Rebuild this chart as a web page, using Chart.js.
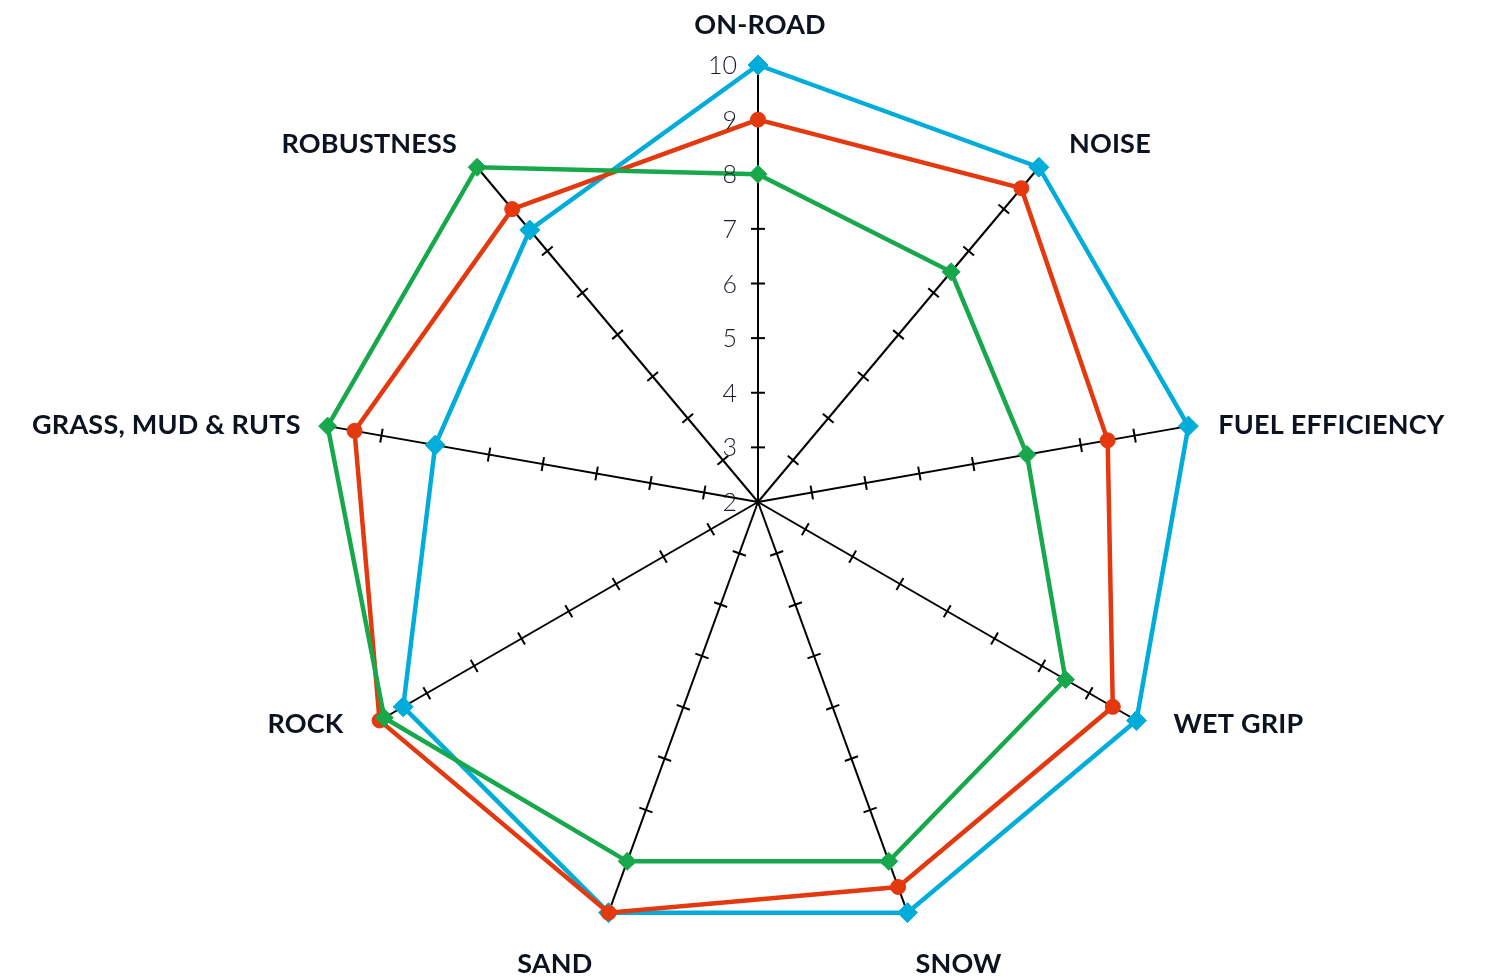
<!DOCTYPE html>
<html lang="en">
<head>
  <meta charset="UTF-8" />
  <title>Tyre Ratings Radar</title>
  <script src="https://cdn.jsdelivr.net/npm/chart.js"></script>
  <style>
    * {
      margin: 0;
      padding: 0;
      box-sizing: border-box;
    }

    body {
      background: #fff;
      font-family: 'Lato', sans-serif;
    }

    .wrap {
      width: 1488px;
      height: 979px;
      position: relative;
    }
  </style>
</head>
<body>

  <div class="wrap">
    <canvas id="radar"></canvas>
  </div>

  <script>
    // Chart data
    const categories = ['ON-ROAD', 'NOISE', 'FUEL EFFICIENCY', 'WET GRIP', 'SNOW', 'SAND', 'ROCK', 'GRASS, MUD & RUTS', 'ROBUSTNESS'];
    const blueValues = [10, 10, 10, 10, 10, 10, 9.5, 8, 8.5];
    const redValues = [9, 9.5, 8.5, 9.5, 9.5, 10, 10, 9.5, 9];
    const greenValues = [8, 7.5, 7, 8.5, 9, 9, 9.9, 10, 10];
    const tickValues = [2, 3, 4, 5, 6, 7, 8, 9, 10];

    // where each axis title sits relative to the end of its spoke: [align, dx, dy]
    const labelPlacement = [
      ['center', 2, -41],
      ['left', 30, -24],
      ['left', 30, -2],
      ['left', 37, 2],
      ['left', 8, 50],
      ['right', -16, 50],
      ['right', -36, 2],
      ['right', -27, -2],
      ['right', -20, -24]
    ];

    const BLUE = '#00adda';
    const RED = '#e4390f';
    const GREEN = '#17a84b';

    // spoke ticks, value labels and axis titles
    const radarExtras = {
      id: 'radarExtras',
      beforeDatasetsDraw(chart) {
        const scale = chart.scales.r;
        const ctx = chart.ctx;
        ctx.save();
        ctx.strokeStyle = '#000';
        ctx.lineWidth = 2;
        for (let i = 0; i < categories.length; i++) {
          const a = scale.getIndexAngle(i);
          const nx = Math.cos(a), ny = Math.sin(a); // perpendicular to spoke
          tickValues.forEach(v => {
            if (v <= scale.min || v >= scale.max) return;
            const p = scale.getPointPositionForValue(i, v);
            ctx.beginPath();
            ctx.moveTo(p.x - nx * 7, p.y - ny * 7);
            ctx.lineTo(p.x + nx * 7, p.y + ny * 7);
            ctx.stroke();
          });
        }
        ctx.restore();
      },
      afterDraw(chart) {
        const scale = chart.scales.r;
        const ctx = chart.ctx;
        ctx.save();

        // value labels along the first spoke
        ctx.font = '300 25px Lato';
        ctx.fillStyle = '#1c1c2c';
        ctx.textAlign = 'right';
        ctx.textBaseline = 'alphabetic';
        tickValues.forEach(v => {
          const p = scale.getPointPositionForValue(0, v);
          ctx.fillText(String(v), p.x - 21, p.y + 9);
        });

        // axis titles
        ctx.font = 'bold 27px Lato';
        ctx.letterSpacing = '0.2px';
        ctx.fillStyle = '#0b1220';
        categories.forEach((name, i) => {
          const end = scale.getPointPosition(i, scale.drawingArea);
          const [align, dx, dy] = labelPlacement[i];
          ctx.textAlign = align;
          ctx.fillText(name, end.x + dx, end.y + dy + 10);
        });
        ctx.restore();
      }
    };

    function series(data, color, shape, radius) {
      return {
        data: data,
        borderColor: color,
        backgroundColor: color,
        borderWidth: 4.5,
        fill: false,
        tension: 0,
        pointStyle: shape,
        pointRadius: radius,
        pointBorderWidth: 1,
        pointBackgroundColor: color,
        pointBorderColor: color
      };
    }

    const ctx = document.getElementById('radar').getContext('2d');
    const radar = new Chart(ctx, {
      type: 'radar',
      data: {
        labels: categories,
        datasets: [
          series(greenValues, GREEN, 'rectRot', 9),
          series(redValues, RED, 'circle', 7.5),
          series(blueValues, BLUE, 'rectRot', 10)
        ]
      },
      options: {
        responsive: true,
        maintainAspectRatio: false,
        animation: false,
        layout: {
          padding: { top: 65, bottom: 40, left: 321, right: 293 }
        },
        plugins: {
          legend: { display: false },
          tooltip: { enabled: false }
        },
        scales: {
          r: {
            min: 2,
            max: 10,
            ticks: { display: false, stepSize: 1 },
            grid: { display: false },
            angleLines: { display: true, color: '#000', lineWidth: 2 },
            pointLabels: { display: false }
          }
        }
      },
      plugins: [radarExtras]
    });
  </script>
</body>
</html>
